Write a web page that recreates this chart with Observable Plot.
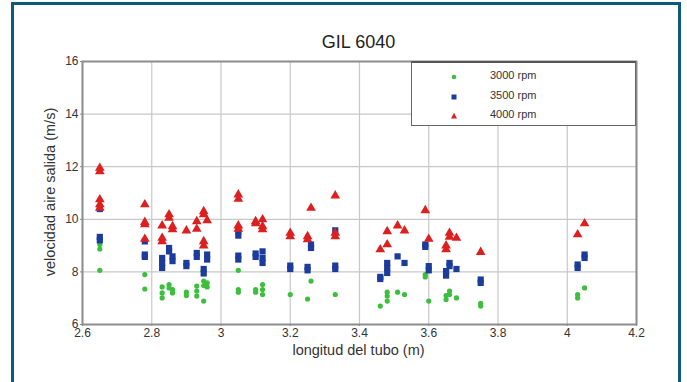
<!DOCTYPE html>
<html>
<head>
<meta charset="utf-8">
<script src="https://cdn.jsdelivr.net/npm/d3@7"></script>
<script src="https://cdn.jsdelivr.net/npm/@observablehq/plot@0.6"></script>
<style>
  html, body { margin: 0; padding: 0; background: #fff; }
  #wrap { position: relative; width: 687px; height: 382px; overflow: hidden; background: #fff;
          font-family: "Liberation Sans", Arial, sans-serif; color: #2a2a2a; }
  #frame { position: absolute; left: 11px; top: 2px; width: 664px; height: 400px;
           border: 3px solid #0d5a7c; border-bottom: none; }
  #chart { position: absolute; left: 0; top: 0; }
  .lbl { position: absolute; white-space: nowrap; }
  #title { left: 0; width: 717px; top: 32px; text-align: center; font-size: 18px; color: #222; }
  #xlabel { left: 0; width: 717px; top: 342px; text-align: center; font-size: 14.5px; color: #333; }
  #ylabel { left: 50px; top: 192px; font-size: 14.5px; color: #333;
            transform: translate(-50%, -50%) rotate(-90deg); }
  #legend { position: absolute; left: 411px; top: 61px; width: 223px; height: 62px;
            border: 1.5px solid #666; border-top: 2px solid #555; background: #fff; }
  .item { position: absolute; left: 0; width: 220px; height: 16px; font-size: 11px; color: #333; white-space: nowrap; }
  .item svg { position: absolute; left: 37px; top: 3px; }
  .item span { position: absolute; left: 78px; top: 0px; }
</style>
</head>
<body>
<div id="wrap">
  <div id="frame"></div>
  <div id="chart"></div>
  <div id="title" class="lbl">GIL 6040</div>
  <div id="xlabel" class="lbl">longitud del tubo (m)</div>
  <div id="ylabel" class="lbl">velocidad aire salida (m/s)</div>
  <div id="legend"></div>
</div>
<script>
// Tick values
const xTicks = [2.6, 2.8, 3.0, 3.2, 3.4, 3.6, 3.8, 4.0, 4.2];
const yTicks = [6, 8, 10, 12, 14, 16];

// Series names
const seriesNames = ["3000 rpm", "3500 rpm", "4000 rpm"];

// 3000 rpm (green)
const x3000 = [2.65,2.65,2.65, 2.78,2.78, 2.83,2.83,2.83, 2.85,2.85, 2.86,2.86, 2.9,2.9, 2.93,2.93,2.93,
  2.95,2.95,2.95, 2.96,2.96, 3.05,3.05,3.05, 3.1,3.1, 3.12,3.12,3.12, 3.2, 3.25, 3.26, 3.33, 3.46,
  3.48,3.48,3.48, 3.51, 3.53, 3.59,3.59, 3.6, 3.65,3.65, 3.66,3.66, 3.68, 3.75,3.75, 4.03,4.03, 4.05];
const y3000 = [9.04,8.87,8.06, 7.9,7.35, 7.43,7.2,7.01, 7.52,7.39, 7.33,7.2, 7.23,7.1, 7.46,7.27,7.08,
  7.65,7.48,6.89, 7.58,7.43, 8.06,7.33,7.23, 7.33,7.23, 7.52,7.33,7.14, 7.14, 6.97, 7.65, 7.14, 6.7,
  7.23,7.08,6.89, 7.23, 7.14, 7.9,7.81, 6.89, 7.1,6.95, 7.27,7.14, 7.01, 6.8,6.7, 7.14,7.01, 7.39];

// 3500 rpm (blue)
const x3500 = [2.65,2.65,2.65, 2.78,2.78,2.78, 2.83,2.83,2.83, 2.85,2.85, 2.86,2.86, 2.9,2.9, 2.93,2.93,
  2.95,2.95, 2.96,2.96, 3.05,3.05,3.05,3.05, 3.1,3.1, 3.12,3.12,3.12, 3.2,3.2, 3.25,3.25, 3.26,3.26,
  3.33,3.33,3.33, 3.46,3.46, 3.48,3.48,3.48, 3.51, 3.53, 3.59,3.59, 3.6,3.6, 3.65,3.65, 3.66,3.66, 3.68,
  3.75,3.75, 4.03,4.03, 4.05,4.05];
const y3500 = [10.39,9.33,9.2, 9.16,8.66,8.57, 8.53,8.34,8.15, 8.91,8.78, 8.59,8.41, 8.34,8.22, 8.72,8.57,
  8.11,7.94, 8.66,8.47, 9.54,9.38,8.62,8.47, 8.7,8.57, 8.78,8.53,8.34, 8.24,8.11, 8.19,8.06, 9.04,8.91,
  9.58,8.24,8.11, 7.81,7.73, 8.34,8.15,7.96, 8.59, 8.34, 9.04,8.95, 8.22,8.06, 8.03,7.86, 8.34,8.22, 8.11,
  7.71,7.58, 8.28,8.15, 8.66,8.53];

// 4000 rpm (red)
const x4000 = [2.65,2.65,2.65,2.65,2.65, 2.78,2.78,2.78,2.78, 2.83,2.83,2.83, 2.85,2.85, 2.86,2.86, 2.9,
  2.93,2.93, 2.95,2.95,2.95,2.95, 2.96, 3.05,3.05,3.05,3.05, 3.1,3.1, 3.12,3.12,3.12, 3.2,3.2, 3.25,3.25,
  3.26, 3.33,3.33,3.33, 3.46, 3.48,3.48, 3.51, 3.53, 3.59, 3.6, 3.65,3.65, 3.66,3.66, 3.68, 3.75, 4.03, 4.05];
const y4000 = [11.95,11.82,10.75,10.56,10.43, 10.56,9.89,9.8,9.25, 9.76,9.29,9.16, 10.18,10.05, 9.73,9.61, 9.57,
  9.63,9.92, 10.3,10.18,9.16,9.0, 9.96, 10.94,10.77,9.76,9.63, 9.92,9.84, 9.99,9.73,9.61, 9.48,9.35, 9.35,9.23,
  10.43, 10.9,9.48,9.35, 8.85, 9.54,9.04, 9.76, 9.57, 10.34, 9.25, 9.0,8.85, 9.48,9.33, 9.29, 8.75, 9.42, 9.84];

const colors = ["#3cbf3c", "#1c3c9c", "#dc2020"];
const toRows = (xs, ys) => xs.map((x, i) => ({x, y: ys[i]}));
const d3000 = toRows(x3000, y3000);
const d3500 = toRows(x3500, y3500);
const d4000 = toRows(x4000, y4000);

const fmt = d => String(+d.toFixed(1));

const chart = Plot.plot({
  width: 687,
  height: 382,
  marginLeft: 82,
  marginRight: 51,
  marginTop: 61,
  marginBottom: 58,
  style: { background: "transparent", fontFamily: "'Liberation Sans', Arial, sans-serif" },
  x: { domain: [2.6, 4.2], ticks: xTicks, tickFormat: fmt },
  y: { domain: [6, 16], ticks: yTicks },
  marks: [
    Plot.gridX(xTicks, { stroke: "#c8c8c8", strokeOpacity: 1, strokeWidth: 1.2 }),
    Plot.gridY(yTicks, { stroke: "#c8c8c8", strokeOpacity: 1, strokeWidth: 1.2 }),
    Plot.axisX(xTicks, { tickFormat: fmt, tickSize: 2, tickPadding: 2, fontSize: 12, fill: "#333", stroke: "#888", label: null }),
    Plot.axisY(yTicks, { tickSize: 2, tickPadding: 2, fontSize: 12, fill: "#333", stroke: "#888", label: null }),
    Plot.frame({ stroke: "#8c8c8c", strokeWidth: 2 }),
    Plot.dot(d3000, { x: "x", y: "y", r: 2.6, fill: colors[0], stroke: "none", symbol: "circle" }),
    Plot.dot(d3500, { x: "x", y: "y", r: 3.5, fill: colors[1], stroke: "none", symbol: "square" }),
    Plot.dot(d4000, { x: "x", y: "y", r: 3.6, fill: colors[2], stroke: "none", symbol: "triangle" })
  ]
});
document.getElementById("chart").appendChild(chart);

// Legend
const legend = document.getElementById("legend");
const shapes = [
  '<circle cx="5" cy="5" r="2.3"/>',
  '<rect x="2.5" y="2.5" width="5" height="5"/>',
  '<path d="M5,1.8 L8,7.6 L2,7.6 Z"/>'
];
const tops = [6, 26, 45];
seriesNames.forEach((name, i) => {
  const div = document.createElement("div");
  div.className = "item";
  div.style.top = tops[i] + "px";
  div.innerHTML = `<svg width="10" height="10" fill="${colors[i]}">${shapes[i]}</svg><span>${name}</span>`;
  legend.appendChild(div);
});
</script>
</body>
</html>
